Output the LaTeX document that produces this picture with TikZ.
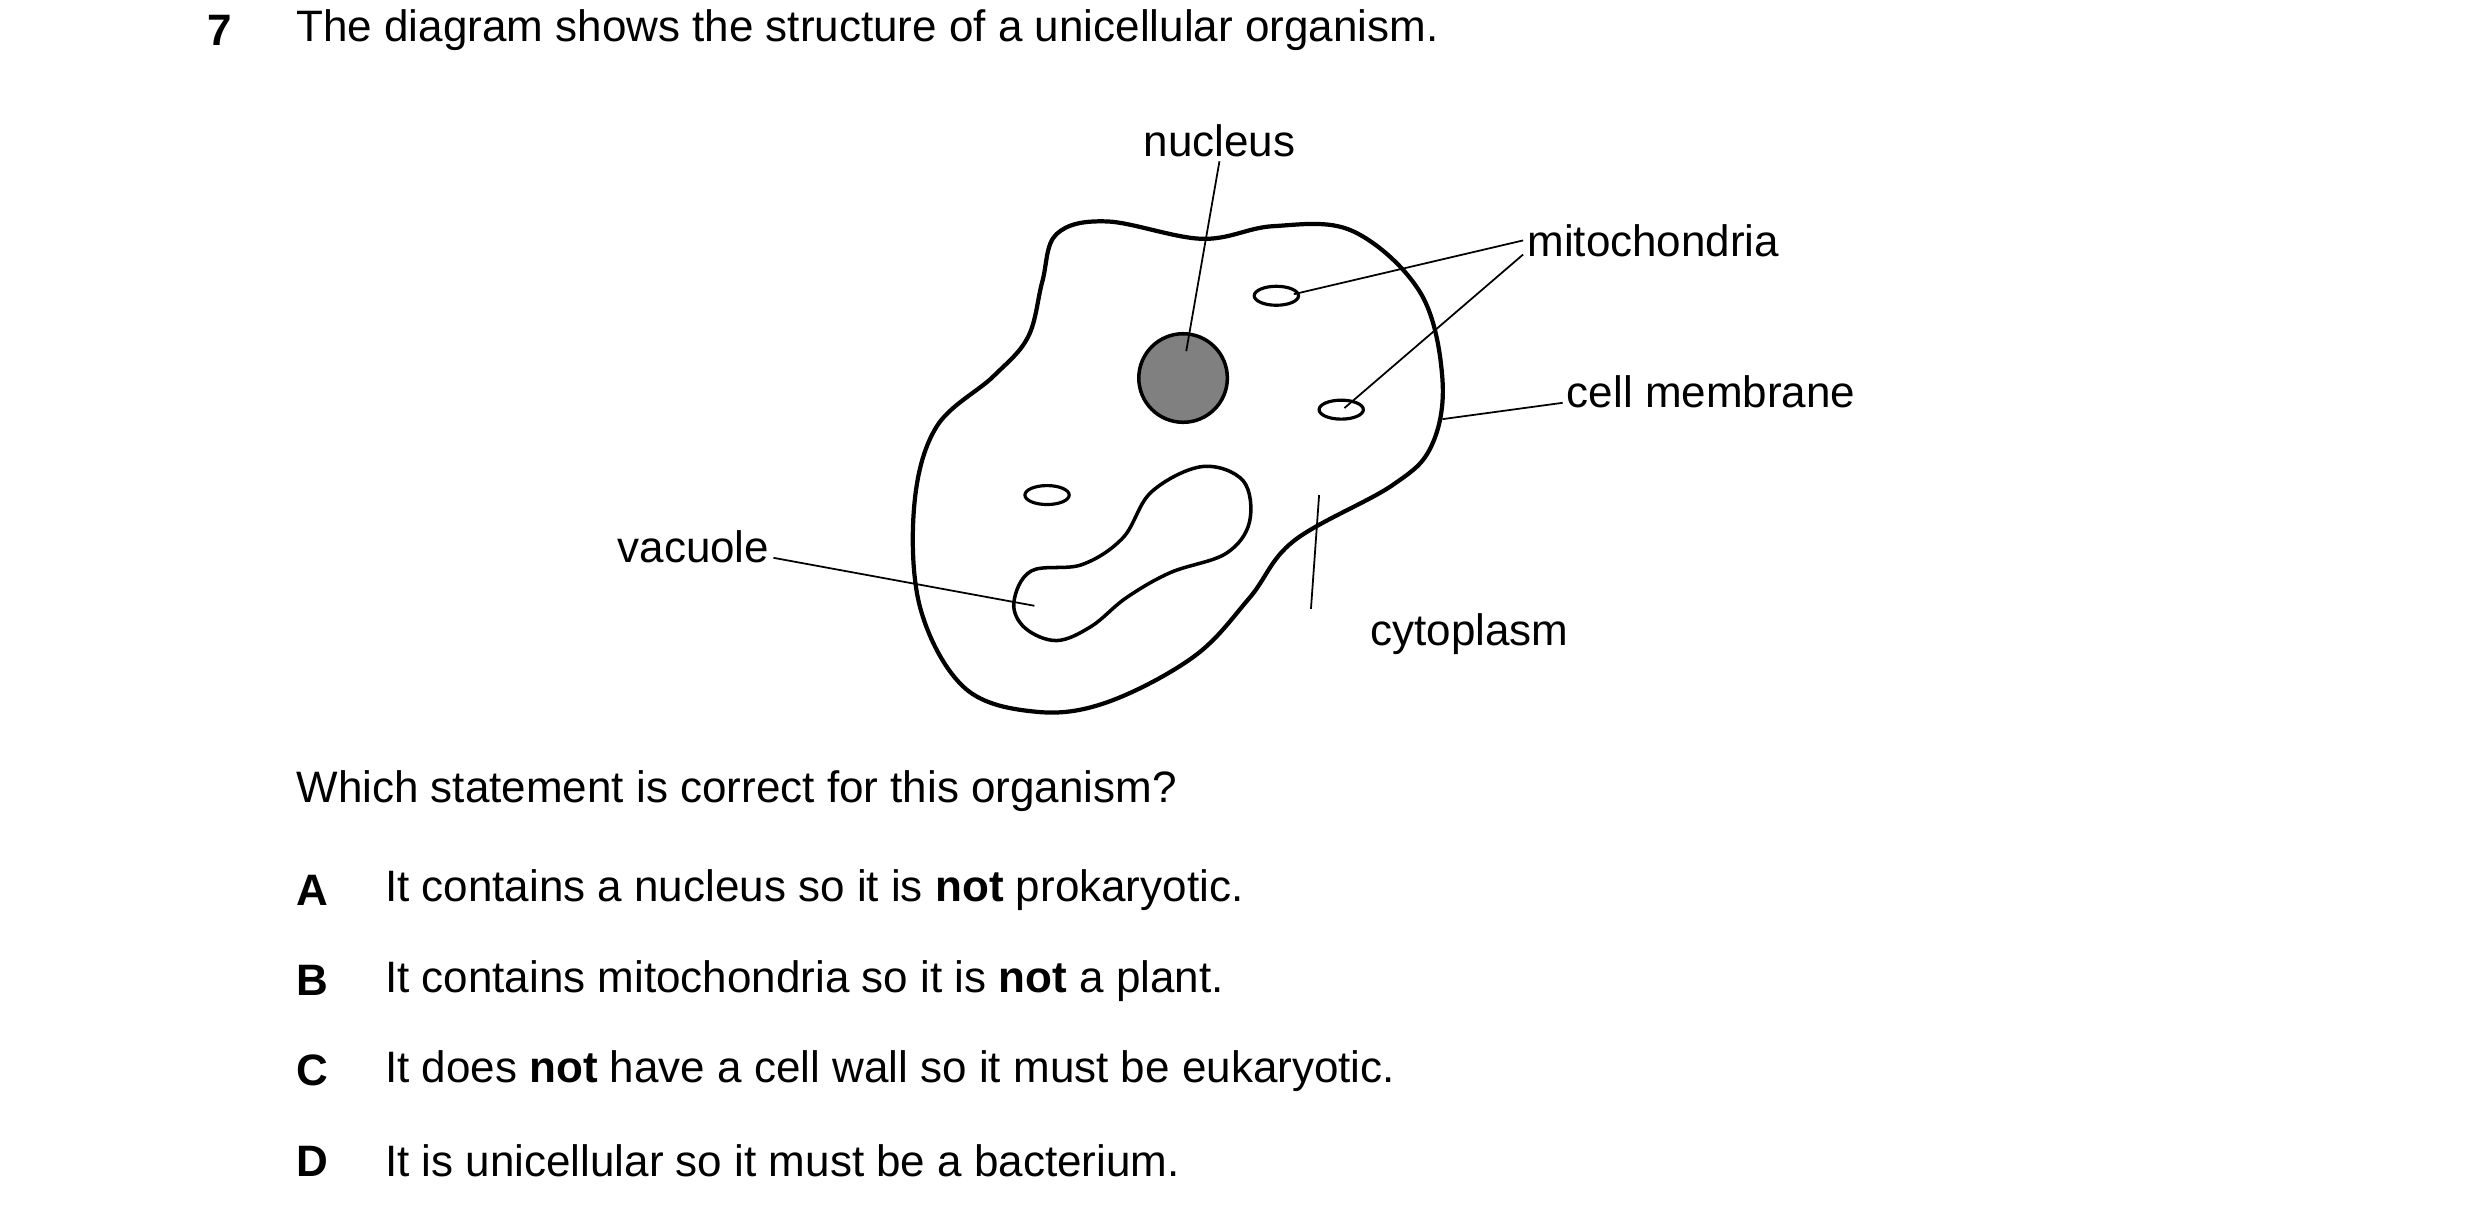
\documentclass[tikz,border=0pt]{standalone}
\usepackage{fontspec}
\setmainfont{Liberation Sans}
\usetikzlibrary{positioning}
\tikzset{
	txt/.style={anchor=west, inner sep=0pt, font=\fontsize{12.5}{15}\selectfont},
	lbl/.style={inner sep=1pt, font=\fontsize{12.5}{15}\selectfont},
	leader/.style={line width=0.5pt},
	mito/.style={draw, line width=0.8pt, x radius=14, y radius=6}
}
\begin{document}
\begin{tikzpicture}[x=0.0158cm, y=-0.0158cm]
	\useasboundingbox (0,0) rectangle (1568,770);
	% question
	\node[txt, font=\fontsize{12.5}{15}\selectfont\bfseries] (qnum) at (131,19) {7};
	\node[txt] (qtext) at (187,19) {The diagram shows the structure of a unicellular organism.};
	% cell outline
	\draw[line width=1.2pt] plot[smooth cycle, tension=0.6] coordinates {
		(668,148) (700,140) (760,151) (805,143) (855,146) (898,185) (912,240)
		(905,282) (880,307) (818,342) (790,378) (755,415) (700,444) (655,450)
		(610,435) (582,385) (578,320) (592,270) (628,238) (650,213) (659,178)};
	% vacuole
	\draw[line width=1pt] plot[smooth cycle, tension=0.6] coordinates {
		(652,361) (684,357) (710,340) (728,311) (760,295) (786,304) (790,330)
		(775,350) (740,362) (712,378) (690,396) (668,405) (648,397) (641,381)};
	% nucleus and mitochondria
	\node[circle, draw, line width=1pt, fill=black!50, minimum size=56*0.0158cm, inner sep=0pt] (nuc) at (748,239) {};
	\draw[line width=0.9pt] (807,187) ellipse [x radius=14, y radius=6];
	\draw[line width=0.9pt] (848,259) ellipse [x radius=14, y radius=6];
	\draw[line width=0.9pt] (662,313) ellipse [x radius=14, y radius=6];
	\coordinate (nucend) at (750,222);
	\coordinate (mitoA) at (818,186);
	\coordinate (mitoB) at (850,258);
	\coordinate (memb) at (912,265);
	\coordinate (cyto) at (834,313);
	\coordinate (vac) at (654,383);
	% labels
	\node[lbl, anchor=south] (nucleus) at (771,102) {nucleus};
	\node[lbl, anchor=west] (mitoch) at (963,152) {mitochondria};
	\node[lbl, anchor=west] (membrane) at (988,248) {cell membrane};
	\node[lbl, anchor=north] (cytoplasm) at (929,385) {cytoplasm};
	\node[lbl, anchor=east] (vacuole) at (489,346) {vacuole};
	\draw[leader] (nucleus.south) -- (nucend);
	\draw[leader] (mitoch.west) -- (mitoA);
	\draw[leader] ([yshift=-4]mitoch.west) -- (mitoB);
	\draw[leader] ([yshift=-3]membrane.west) -- (memb);
	\draw[leader] ([xshift=-45]cytoplasm.north) -- (cyto);
	\draw[leader] ([yshift=-3]vacuole.east) -- (vac);
	% options
	\node[txt] (which) at (187,500) {Which statement is correct for this organism?};
	\foreach \y/\l/\t in {563/A/{It contains a nucleus so it is \textbf{not} prokaryotic.},
		620/B/{It contains mitochondria so it is \textbf{not} a plant.},
		677/C/{It does \textbf{not} have a cell wall so it must be eukaryotic.},
		734/D/{It is unicellular so it must be a bacterium.}} {
		\node[txt, font=\fontsize{12.5}{15}\selectfont\bfseries] (opt\l) at (187,\y) {\l};
		\node[txt] (txt\l) at (243,\y) {\t};
	}
\end{tikzpicture}
\end{document}
